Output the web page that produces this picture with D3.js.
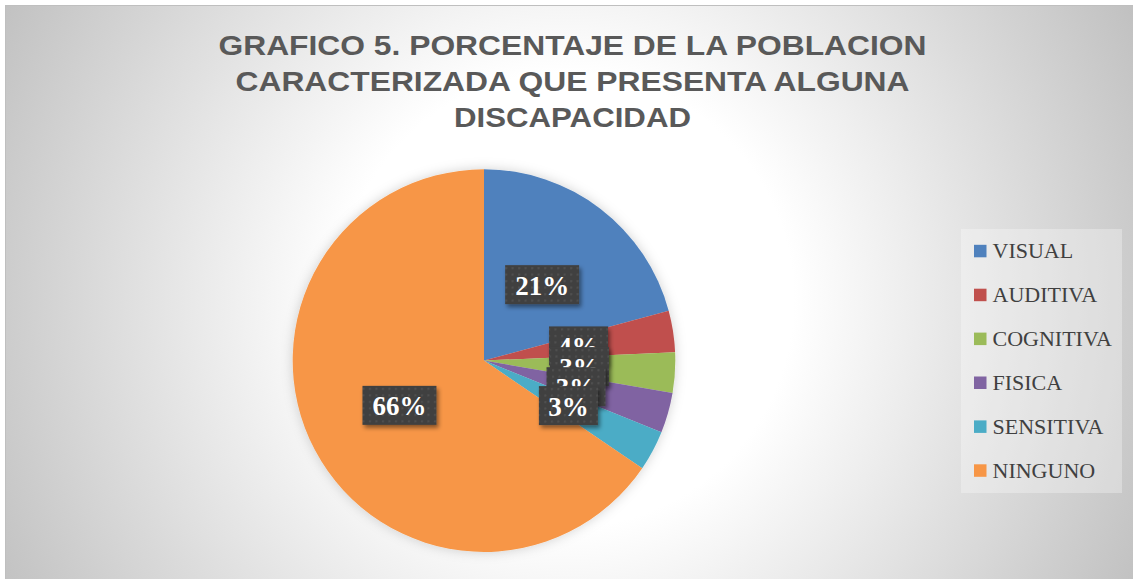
<!DOCTYPE html>
<meta charset="utf-8">

<script src="https://d3js.org/d3.v7.min.js"></script>

<style type="text/css">

body {
  margin: 0;
  background: #fff;
}

.title {
  font-family: "Liberation Sans", Arial, sans-serif;
  font-weight: bold;
  font-size: 28px;
  fill: #595959;
}

.legend text {
  font-family: "Liberation Serif", "Times New Roman", serif;
  font-size: 22px;
  fill: #404040;
}

.slice-label text {
  font-family: "Liberation Serif", "Times New Roman", serif;
  font-weight: bold;
  font-size: 27px;
  fill: #fff;
}

</style>

<body>
</body>

<script>

var categories = ["VISUAL", "AUDITIVA", "COGNITIVA", "FISICA", "SENSITIVA", "NINGUNO"];
var values = [20.8, 3.5, 3.4, 3.4, 3.4, 65.5];
var colors = ["#4F81BD", "#C0504D", "#9BBB59", "#8064A2", "#4BACC6", "#F79646"];
var titleLines = [
  "GRAFICO 5. PORCENTAJE DE LA POBLACION",
  "CARACTERIZADA QUE PRESENTA ALGUNA",
  "DISCAPACIDAD"
];

var width = 1133,
    height = 579;

var svg = d3.select("body").append("svg")
  .attr("width", width)
  .attr("height", height);

var defs = svg.append("defs");

var bg = defs.append("radialGradient")
  .attr("id", "bg")
  .attr("gradientUnits", "userSpaceOnUse")
  .attr("cx", 566).attr("cy", 300).attr("r", 650);
bg.append("stop").attr("offset", 0).attr("stop-color", "#ffffff");
bg.append("stop").attr("offset", 0.35).attr("stop-color", "#ffffff");
bg.append("stop").attr("offset", 1).attr("stop-color", "#bfbfbf");

var pieShadow = defs.append("filter")
  .attr("id", "pieShadow")
  .attr("x", "-20%").attr("y", "-20%").attr("width", "140%").attr("height", "140%");
pieShadow.append("feDropShadow")
  .attr("dx", 0).attr("dy", 0)
  .attr("stdDeviation", 6)
  .attr("flood-color", "#000")
  .attr("flood-opacity", 0.18);

var boxShadow = defs.append("filter")
  .attr("id", "boxShadow")
  .attr("x", "-30%").attr("y", "-30%").attr("width", "160%").attr("height", "160%");
boxShadow.append("feDropShadow")
  .attr("dx", 2).attr("dy", 3)
  .attr("stdDeviation", 2)
  .attr("flood-color", "#000")
  .attr("flood-opacity", 0.45);

var dots = defs.append("pattern")
  .attr("id", "dots")
  .attr("patternUnits", "userSpaceOnUse")
  .attr("width", 6.5).attr("height", 6.5);
dots.append("rect").attr("width", 6.5).attr("height", 6.5).attr("fill", "#404040");
dots.append("rect").attr("x", 2).attr("y", 2).attr("width", 2).attr("height", 2).attr("fill", "#515151");

// chart area
svg.append("rect")
  .attr("x", 5.5).attr("y", 5.5)
  .attr("width", width - 5).attr("height", height - 5)
  .attr("fill", "url(#bg)")
  .attr("stroke", "#bfbfbf");

// title
var titleWidths = [708, 674, 237];
svg.selectAll(".title")
  .data(titleLines).enter().append("text")
  .attr("class", "title")
  .attr("x", 572.5)
  .attr("y", function(d, i) { return 54.5 + i * 36.3; })
  .attr("text-anchor", "middle")
  .attr("textLength", function(d, i) { return titleWidths[i]; })
  .attr("lengthAdjust", "spacingAndGlyphs")
  .text(function(d) { return d; });

// pie
var data = categories.map(function(c, i) { return {name: c, value: values[i], color: colors[i]}; });

var radius = 191.3;
var pie = d3.pie().sort(null).value(function(d) { return d.value; });
var arc = d3.arc().innerRadius(0).outerRadius(radius);
var labelArc = d3.arc().innerRadius(radius * 0.5).outerRadius(radius * 0.5);

var g = svg.append("g")
  .attr("transform", "translate(484,360.6)");

var arcs = pie(data);

g.append("g")
  .attr("filter", "url(#pieShadow)")
  .selectAll("path")
  .data(arcs).enter().append("path")
  .attr("d", arc)
  .attr("fill", function(d) { return d.data.color; });

var labels = g.selectAll(".slice-label")
  .data(arcs).enter().append("g")
  .attr("class", "slice-label")
  .attr("transform", function(d) { return "translate(" + labelArc.centroid(d) + ")"; });

labels.each(function(d) {
  var lbl = d3.select(this);
  var txt = Math.round(d.data.value) + "%";
  var w = txt.length === 3 ? 74 : 59;
  lbl.append("rect")
    .attr("x", -w / 2).attr("y", -19.5)
    .attr("width", w).attr("height", 39)
    .attr("fill", "url(#dots)")
    .attr("filter", "url(#boxShadow)");
  lbl.append("text")
    .attr("text-anchor", "middle")
    .attr("y", 10)
    .text(txt);
});

// legend
var legend = svg.append("g").attr("class", "legend");

legend.append("rect")
  .attr("x", 961).attr("y", 229)
  .attr("width", 161).attr("height", 264)
  .attr("fill", "#ffffff")
  .attr("fill-opacity", 0.3);

var item = legend.selectAll(".item")
  .data(data).enter().append("g")
  .attr("class", "item")
  .attr("transform", function(d, i) { return "translate(974," + (258.3 + i * 43.9) + ")"; });

item.append("rect")
  .attr("x", 0).attr("y", -13.5)
  .attr("width", 12.5).attr("height", 12.5)
  .attr("fill", function(d) { return d.color; });

item.append("text")
  .attr("x", 18.5)
  .attr("y", 0)
  .text(function(d) { return d.name; });

</script>
